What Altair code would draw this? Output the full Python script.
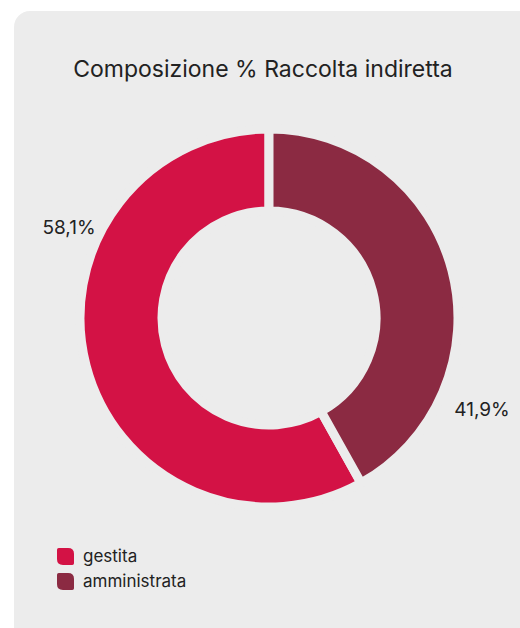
import altair as alt
import pandas as pd

# ---- data ----
categories = ["gestita", "amministrata"]
values = [58.1, 41.9]
value_labels = ["58,1%", "41,9%"]
slice_order = [1, 0]  # amministrata starts at 12 o'clock, clockwise
colors = ["#d31245", "#8b2a42"]
title_text = "Composizione % Raccolta indiretta"

W, H = 520, 628
BG = "#ececec"
FONT = "Inter"
TXT = "#222222"

df = pd.DataFrame({
    "categoria": categories,
    "valore": values,
    "etichetta": value_labels,
    "ordine": slice_order,
})
one = pd.DataFrame({"t": [title_text]})

panel = alt.Chart(one).mark_rect(color=BG, cornerRadiusTopLeft=16).encode(
    x=alt.value(14), x2=alt.value(560), y=alt.value(11), y2=alt.value(680)
)

title = alt.Chart(one).mark_text(
    font=FONT, fontSize=23, color=TXT, align="center", baseline="middle"
).encode(text="t:N", x=alt.value(263), y=alt.value(70))

leaf = ("M-1,-0.8 Q-1,-1 -0.8,-1 L0.3,-1 Q1,-1 1,-0.3 L1,0.8 Q1,1 0.8,1 "
        "L-0.3,1 Q-1,1 -1,0.3 Z")

arcs = alt.Chart(df).mark_arc(
    radius=189, radius2=107, stroke=BG, strokeWidth=9
).encode(
    theta=alt.Theta("valore:Q", stack=True),
    order=alt.Order("ordine:Q"),
    color=alt.Color(
        "categoria:N",
        scale=alt.Scale(domain=categories, range=colors),
        legend=alt.Legend(
            title=None,
            orient="none",
            legendX=57,
            legendY=548,
            symbolType=leaf,
            symbolSize=289,
            symbolStrokeWidth=0,
            symbolOpacity=1,
            labelFont=FONT,
            labelFontSize=17,
            labelColor=TXT,
            labelOffset=9,
            rowPadding=7,
        ),
    ),
    x=alt.value(269),
    y=alt.value(318),
)

lab_g = alt.Chart(df).transform_filter(alt.datum.categoria == "gestita").mark_text(
    font=FONT, fontSize=19, color=TXT, align="center", baseline="middle"
).encode(text="etichetta:N", x=alt.value(69), y=alt.value(228))

lab_a = alt.Chart(df).transform_filter(alt.datum.categoria == "amministrata").mark_text(
    font=FONT, fontSize=19, color=TXT, align="center", baseline="middle"
).encode(text="etichetta:N", x=alt.value(482), y=alt.value(410))

chart = alt.layer(panel, title, arcs, lab_g, lab_a).properties(
    width=W, height=H,
    autosize=alt.AutoSizeParams(type="none"),
    padding=0,
    background="white",
).configure_view(stroke=None)

chart.save("out.html", embed_options={"renderer": "svg", "actions": False})
